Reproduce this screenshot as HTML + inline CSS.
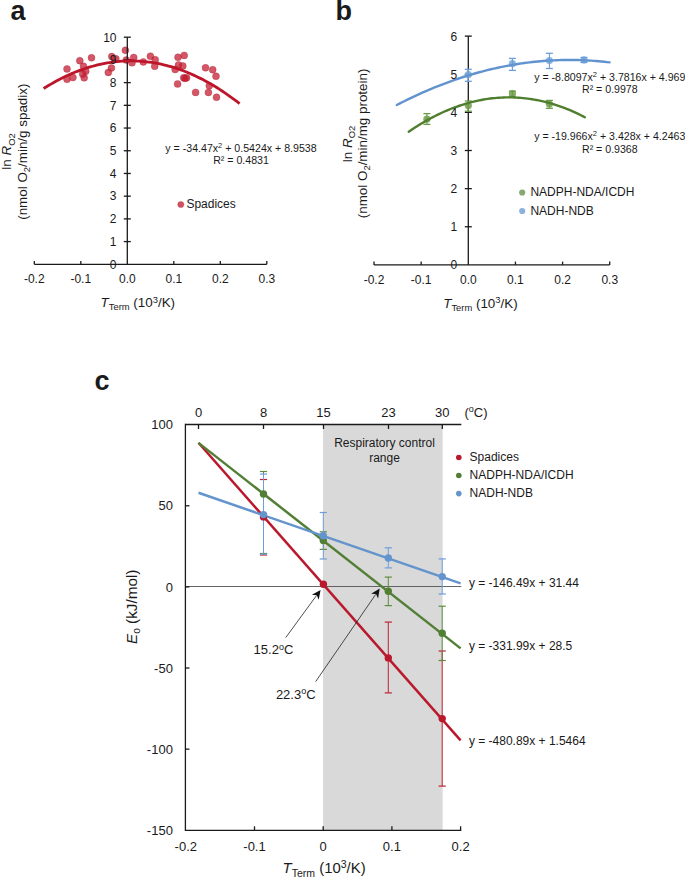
<!DOCTYPE html>
<html><head><meta charset="utf-8"><style>
html,body{margin:0;padding:0;background:#fff;}
svg{display:block;font-family:"Liberation Sans", sans-serif;}
</style></head><body>
<svg width="685" height="878" viewBox="0 0 685 878">
<rect width="685" height="878" fill="#fff"/>
<text x="10.5" y="19.6" font-size="27" text-anchor="start" fill="#1a1a1a" font-weight="bold">a</text>
<text x="335.5" y="19.6" font-size="27" text-anchor="start" fill="#1a1a1a" font-weight="bold">b</text>
<text x="94.5" y="390.4" font-size="27" text-anchor="start" fill="#1a1a1a" font-weight="bold">c</text>
<circle cx="67" cy="68.9" r="3.5" fill="#c41f33" fill-opacity="0.75" stroke="#a81a2e" stroke-opacity="0.45" stroke-width="0.7"/>
<circle cx="67" cy="79.3" r="3.5" fill="#c41f33" fill-opacity="0.75" stroke="#a81a2e" stroke-opacity="0.45" stroke-width="0.7"/>
<circle cx="72.9" cy="77.5" r="3.5" fill="#c41f33" fill-opacity="0.75" stroke="#a81a2e" stroke-opacity="0.45" stroke-width="0.7"/>
<circle cx="79.8" cy="60.7" r="3.5" fill="#c41f33" fill-opacity="0.75" stroke="#a81a2e" stroke-opacity="0.45" stroke-width="0.7"/>
<circle cx="91.5" cy="57.8" r="3.5" fill="#c41f33" fill-opacity="0.75" stroke="#a81a2e" stroke-opacity="0.45" stroke-width="0.7"/>
<circle cx="83.5" cy="66.2" r="3.5" fill="#c41f33" fill-opacity="0.75" stroke="#a81a2e" stroke-opacity="0.45" stroke-width="0.7"/>
<circle cx="85.7" cy="71.3" r="3.5" fill="#c41f33" fill-opacity="0.75" stroke="#a81a2e" stroke-opacity="0.45" stroke-width="0.7"/>
<circle cx="84.2" cy="77.8" r="3.5" fill="#c41f33" fill-opacity="0.75" stroke="#a81a2e" stroke-opacity="0.45" stroke-width="0.7"/>
<circle cx="82.7" cy="74" r="3.5" fill="#c41f33" fill-opacity="0.75" stroke="#a81a2e" stroke-opacity="0.45" stroke-width="0.7"/>
<circle cx="111.8" cy="56.6" r="3.5" fill="#c41f33" fill-opacity="0.75" stroke="#a81a2e" stroke-opacity="0.45" stroke-width="0.7"/>
<circle cx="115.8" cy="58.8" r="3.5" fill="#c41f33" fill-opacity="0.75" stroke="#a81a2e" stroke-opacity="0.45" stroke-width="0.7"/>
<circle cx="125.4" cy="50.3" r="3.5" fill="#c41f33" fill-opacity="0.75" stroke="#a81a2e" stroke-opacity="0.45" stroke-width="0.7"/>
<circle cx="126.3" cy="60.1" r="3.5" fill="#c41f33" fill-opacity="0.75" stroke="#a81a2e" stroke-opacity="0.45" stroke-width="0.7"/>
<circle cx="133.7" cy="57.5" r="3.5" fill="#c41f33" fill-opacity="0.75" stroke="#a81a2e" stroke-opacity="0.45" stroke-width="0.7"/>
<circle cx="132" cy="62.8" r="3.5" fill="#c41f33" fill-opacity="0.75" stroke="#a81a2e" stroke-opacity="0.45" stroke-width="0.7"/>
<circle cx="143.3" cy="61.9" r="3.5" fill="#c41f33" fill-opacity="0.75" stroke="#a81a2e" stroke-opacity="0.45" stroke-width="0.7"/>
<circle cx="150.4" cy="56.2" r="3.5" fill="#c41f33" fill-opacity="0.75" stroke="#a81a2e" stroke-opacity="0.45" stroke-width="0.7"/>
<circle cx="155.2" cy="59.7" r="3.5" fill="#c41f33" fill-opacity="0.75" stroke="#a81a2e" stroke-opacity="0.45" stroke-width="0.7"/>
<circle cx="154.7" cy="66.3" r="3.5" fill="#c41f33" fill-opacity="0.75" stroke="#a81a2e" stroke-opacity="0.45" stroke-width="0.7"/>
<circle cx="111.4" cy="68" r="3.5" fill="#c41f33" fill-opacity="0.75" stroke="#a81a2e" stroke-opacity="0.45" stroke-width="0.7"/>
<circle cx="108.3" cy="72.4" r="3.5" fill="#c41f33" fill-opacity="0.75" stroke="#a81a2e" stroke-opacity="0.45" stroke-width="0.7"/>
<circle cx="178" cy="57.3" r="3.5" fill="#c41f33" fill-opacity="0.75" stroke="#a81a2e" stroke-opacity="0.45" stroke-width="0.7"/>
<circle cx="184.2" cy="55.4" r="3.5" fill="#c41f33" fill-opacity="0.75" stroke="#a81a2e" stroke-opacity="0.45" stroke-width="0.7"/>
<circle cx="178.5" cy="64.9" r="3.5" fill="#c41f33" fill-opacity="0.75" stroke="#a81a2e" stroke-opacity="0.45" stroke-width="0.7"/>
<circle cx="182.8" cy="65.9" r="3.5" fill="#c41f33" fill-opacity="0.75" stroke="#a81a2e" stroke-opacity="0.45" stroke-width="0.7"/>
<circle cx="175.2" cy="69.5" r="3.5" fill="#c41f33" fill-opacity="0.75" stroke="#a81a2e" stroke-opacity="0.45" stroke-width="0.7"/>
<circle cx="183.7" cy="77.7" r="3.5" fill="#c41f33" fill-opacity="0.75" stroke="#a81a2e" stroke-opacity="0.45" stroke-width="0.7"/>
<circle cx="186.6" cy="77.7" r="3.5" fill="#c41f33" fill-opacity="0.75" stroke="#a81a2e" stroke-opacity="0.45" stroke-width="0.7"/>
<circle cx="185" cy="78.5" r="3.5" fill="#c41f33" fill-opacity="0.75" stroke="#a81a2e" stroke-opacity="0.45" stroke-width="0.7"/>
<circle cx="177.6" cy="83.9" r="3.5" fill="#c41f33" fill-opacity="0.75" stroke="#a81a2e" stroke-opacity="0.45" stroke-width="0.7"/>
<circle cx="195.6" cy="92.4" r="3.5" fill="#c41f33" fill-opacity="0.75" stroke="#a81a2e" stroke-opacity="0.45" stroke-width="0.7"/>
<circle cx="205.5" cy="67.8" r="3.5" fill="#c41f33" fill-opacity="0.75" stroke="#a81a2e" stroke-opacity="0.45" stroke-width="0.7"/>
<circle cx="212.7" cy="69.7" r="3.5" fill="#c41f33" fill-opacity="0.75" stroke="#a81a2e" stroke-opacity="0.45" stroke-width="0.7"/>
<circle cx="216" cy="76.3" r="3.5" fill="#c41f33" fill-opacity="0.75" stroke="#a81a2e" stroke-opacity="0.45" stroke-width="0.7"/>
<circle cx="209.3" cy="85.8" r="3.5" fill="#c41f33" fill-opacity="0.75" stroke="#a81a2e" stroke-opacity="0.45" stroke-width="0.7"/>
<circle cx="208.4" cy="92.4" r="3.5" fill="#c41f33" fill-opacity="0.75" stroke="#a81a2e" stroke-opacity="0.45" stroke-width="0.7"/>
<circle cx="216.5" cy="97.2" r="3.5" fill="#c41f33" fill-opacity="0.75" stroke="#a81a2e" stroke-opacity="0.45" stroke-width="0.7"/>
<line x1="127.3" y1="37.2" x2="127.3" y2="264.3" stroke="#1a1a1a" stroke-width="1.3"/>
<line x1="34.3" y1="264.3" x2="266.8" y2="264.3" stroke="#1a1a1a" stroke-width="1.3"/>
<line x1="123.8" y1="241.59" x2="130.8" y2="241.59" stroke="#1a1a1a" stroke-width="1.3"/>
<line x1="123.8" y1="218.88" x2="130.8" y2="218.88" stroke="#1a1a1a" stroke-width="1.3"/>
<line x1="123.8" y1="196.17" x2="130.8" y2="196.17" stroke="#1a1a1a" stroke-width="1.3"/>
<line x1="123.8" y1="173.46" x2="130.8" y2="173.46" stroke="#1a1a1a" stroke-width="1.3"/>
<line x1="123.8" y1="150.75" x2="130.8" y2="150.75" stroke="#1a1a1a" stroke-width="1.3"/>
<line x1="123.8" y1="128.04" x2="130.8" y2="128.04" stroke="#1a1a1a" stroke-width="1.3"/>
<line x1="123.8" y1="105.33" x2="130.8" y2="105.33" stroke="#1a1a1a" stroke-width="1.3"/>
<line x1="123.8" y1="82.62" x2="130.8" y2="82.62" stroke="#1a1a1a" stroke-width="1.3"/>
<line x1="123.8" y1="59.91" x2="130.8" y2="59.91" stroke="#1a1a1a" stroke-width="1.3"/>
<line x1="123.8" y1="37.2" x2="130.8" y2="37.2" stroke="#1a1a1a" stroke-width="1.3"/>
<line x1="34.3" y1="264.3" x2="34.3" y2="261" stroke="#1a1a1a" stroke-width="1.3"/>
<line x1="80.8" y1="264.3" x2="80.8" y2="261" stroke="#1a1a1a" stroke-width="1.3"/>
<line x1="173.8" y1="264.3" x2="173.8" y2="261" stroke="#1a1a1a" stroke-width="1.3"/>
<line x1="220.3" y1="264.3" x2="220.3" y2="261" stroke="#1a1a1a" stroke-width="1.3"/>
<line x1="266.8" y1="264.3" x2="266.8" y2="261" stroke="#1a1a1a" stroke-width="1.3"/>
<polyline points="43.6,88.54 46.05,87.01 48.5,85.53 50.95,84.09 53.4,82.69 55.85,81.33 58.3,80.02 60.75,78.76 63.2,77.53 65.65,76.35 68.1,75.22 70.55,74.12 73,73.07 75.45,72.07 77.9,71.1 80.35,70.18 82.8,69.31 85.25,68.47 87.7,67.69 90.15,66.94 92.6,66.24 95.05,65.58 97.5,64.96 99.95,64.39 102.4,63.86 104.85,63.38 107.3,62.94 109.75,62.54 112.2,62.18 114.65,61.87 117.1,61.61 119.55,61.38 122,61.2 124.45,61.06 126.9,60.97 129.35,60.92 131.8,60.91 134.25,60.95 136.7,61.03 139.15,61.15 141.6,61.32 144.05,61.53 146.5,61.79 148.95,62.08 151.4,62.42 153.85,62.81 156.3,63.24 158.75,63.71 161.2,64.22 163.65,64.78 166.1,65.38 168.55,66.03 171,66.71 173.45,67.45 175.9,68.22 178.35,69.04 180.8,69.9 183.25,70.81 185.7,71.76 188.15,72.75 190.6,73.79 193.05,74.87 195.5,75.99 197.95,77.16 200.4,78.37 202.85,79.62 205.3,80.92 207.75,82.26 210.2,83.64 212.65,85.07 215.1,86.54 217.55,88.06 220,89.61 222.45,91.21 224.9,92.86 227.35,94.55 229.8,96.28 232.25,98.05 234.7,99.87 237.15,101.73 239.6,103.64" fill="none" stroke="#bd1529" stroke-width="2.8" stroke-linecap="butt"/>
<text x="116.5" y="268.6" font-size="12" text-anchor="end" fill="#1a1a1a" >0</text>
<text x="116.5" y="245.89" font-size="12" text-anchor="end" fill="#1a1a1a" >1</text>
<text x="116.5" y="223.18" font-size="12" text-anchor="end" fill="#1a1a1a" >2</text>
<text x="116.5" y="200.47" font-size="12" text-anchor="end" fill="#1a1a1a" >3</text>
<text x="116.5" y="177.76" font-size="12" text-anchor="end" fill="#1a1a1a" >4</text>
<text x="116.5" y="155.05" font-size="12" text-anchor="end" fill="#1a1a1a" >5</text>
<text x="116.5" y="132.34" font-size="12" text-anchor="end" fill="#1a1a1a" >6</text>
<text x="116.5" y="109.63" font-size="12" text-anchor="end" fill="#1a1a1a" >7</text>
<text x="116.5" y="86.92" font-size="12" text-anchor="end" fill="#1a1a1a" >8</text>
<text x="116.5" y="64.21" font-size="12" text-anchor="end" fill="#1a1a1a" >9</text>
<text x="116.5" y="41.5" font-size="12" text-anchor="end" fill="#1a1a1a" >10</text>
<text x="34.3" y="283.3" font-size="12" text-anchor="middle" fill="#1a1a1a" >-0.2</text>
<text x="80.8" y="283.3" font-size="12" text-anchor="middle" fill="#1a1a1a" >-0.1</text>
<text x="127.3" y="283.3" font-size="12" text-anchor="middle" fill="#1a1a1a" >0.0</text>
<text x="173.8" y="283.3" font-size="12" text-anchor="middle" fill="#1a1a1a" >0.1</text>
<text x="220.3" y="283.3" font-size="12" text-anchor="middle" fill="#1a1a1a" >0.2</text>
<text x="266.8" y="283.3" font-size="12" text-anchor="middle" fill="#1a1a1a" >0.3</text>
<text x="100.6" y="307.2" font-size="13.4" fill="#1a1a1a"><tspan font-style="italic">T</tspan><tspan font-size="9.4" dy="3">Term</tspan><tspan dy="-3"> (10</tspan><tspan font-size="9.4" dy="-4.6">3</tspan><tspan dy="4.6">/K)</tspan></text>
<g transform="translate(11.2,151.5) rotate(-90)"><text x="0" y="0" font-size="13.4" text-anchor="middle" fill="#1a1a1a">ln <tspan font-style="italic">R</tspan><tspan font-size="9.4" dy="3.7">O2</tspan></text></g>
<g transform="translate(26.6,151.7) rotate(-90)"><text x="0" y="0" font-size="13.4" text-anchor="middle" fill="#1a1a1a">(nmol O<tspan font-size="9.4" dy="3.5">2</tspan><tspan dy="-3.5">/min/g spadix)</tspan></text></g>
<text x="241" y="151.9" font-size="10.62" text-anchor="middle" fill="#1a1a1a" >y = -34.47x<tspan font-size="7.5" dy="-3.8">2</tspan><tspan dy="3.8"> + 0.5424x + 8.9538</tspan></text>
<text x="241" y="163.6" font-size="10.62" text-anchor="middle" fill="#1a1a1a" >R² = 0.4831</text>
<circle cx="180.8" cy="204.5" r="3.1" fill="#c83445" fill-opacity="0.85" stroke="#b02035" stroke-opacity="0.5" stroke-width="0.6"/>
<text x="186.4" y="208.3" font-size="12" text-anchor="start" fill="#1a1a1a" >Spadices</text>
<line x1="468.3" y1="36.12" x2="468.3" y2="264.9" stroke="#1a1a1a" stroke-width="1.3"/>
<line x1="374.02" y1="264.9" x2="609.72" y2="264.9" stroke="#1a1a1a" stroke-width="1.3"/>
<line x1="464.8" y1="226.77" x2="471.8" y2="226.77" stroke="#1a1a1a" stroke-width="1.3"/>
<line x1="464.8" y1="188.64" x2="471.8" y2="188.64" stroke="#1a1a1a" stroke-width="1.3"/>
<line x1="464.8" y1="150.51" x2="471.8" y2="150.51" stroke="#1a1a1a" stroke-width="1.3"/>
<line x1="464.8" y1="112.38" x2="471.8" y2="112.38" stroke="#1a1a1a" stroke-width="1.3"/>
<line x1="464.8" y1="74.25" x2="471.8" y2="74.25" stroke="#1a1a1a" stroke-width="1.3"/>
<line x1="464.8" y1="36.12" x2="471.8" y2="36.12" stroke="#1a1a1a" stroke-width="1.3"/>
<line x1="374.02" y1="264.9" x2="374.02" y2="261.6" stroke="#1a1a1a" stroke-width="1.3"/>
<line x1="421.16" y1="264.9" x2="421.16" y2="261.6" stroke="#1a1a1a" stroke-width="1.3"/>
<line x1="515.44" y1="264.9" x2="515.44" y2="261.6" stroke="#1a1a1a" stroke-width="1.3"/>
<line x1="562.58" y1="264.9" x2="562.58" y2="261.6" stroke="#1a1a1a" stroke-width="1.3"/>
<line x1="609.72" y1="264.9" x2="609.72" y2="261.6" stroke="#1a1a1a" stroke-width="1.3"/>
<circle cx="426.9" cy="119.2" r="3.6" fill="#78a257" fill-opacity="0.9"/>
<circle cx="468.3" cy="105.6" r="3.6" fill="#78a257" fill-opacity="0.9"/>
<circle cx="512.4" cy="93.7" r="3.6" fill="#78a257" fill-opacity="0.9"/>
<circle cx="549.4" cy="104" r="3.6" fill="#78a257" fill-opacity="0.9"/>
<circle cx="468.3" cy="74.7" r="3.6" fill="#7aaee0" fill-opacity="0.9"/>
<circle cx="512.4" cy="63.7" r="3.6" fill="#7aaee0" fill-opacity="0.9"/>
<circle cx="549.4" cy="60.5" r="3.6" fill="#7aaee0" fill-opacity="0.9"/>
<circle cx="584" cy="59.9" r="3.6" fill="#7aaee0" fill-opacity="0.9"/>
<line x1="426.9" y1="113.6" x2="426.9" y2="124.4" stroke="#6b9a48" stroke-width="1.1"/>
<line x1="423.4" y1="113.6" x2="430.4" y2="113.6" stroke="#6b9a48" stroke-width="1.3"/>
<line x1="423.4" y1="124.4" x2="430.4" y2="124.4" stroke="#6b9a48" stroke-width="1.3"/>
<line x1="468.3" y1="101" x2="468.3" y2="111.2" stroke="#6b9a48" stroke-width="1.1"/>
<line x1="464.8" y1="101" x2="471.8" y2="101" stroke="#6b9a48" stroke-width="1.3"/>
<line x1="464.8" y1="111.2" x2="471.8" y2="111.2" stroke="#6b9a48" stroke-width="1.3"/>
<line x1="512.4" y1="91.2" x2="512.4" y2="96.4" stroke="#6b9a48" stroke-width="1.1"/>
<line x1="508.9" y1="91.2" x2="515.9" y2="91.2" stroke="#6b9a48" stroke-width="1.3"/>
<line x1="508.9" y1="96.4" x2="515.9" y2="96.4" stroke="#6b9a48" stroke-width="1.3"/>
<line x1="549.4" y1="100.4" x2="549.4" y2="108.3" stroke="#6b9a48" stroke-width="1.1"/>
<line x1="545.9" y1="100.4" x2="552.9" y2="100.4" stroke="#6b9a48" stroke-width="1.3"/>
<line x1="545.9" y1="108.3" x2="552.9" y2="108.3" stroke="#6b9a48" stroke-width="1.3"/>
<line x1="468.3" y1="69.3" x2="468.3" y2="81.3" stroke="#6c9dd8" stroke-width="1.1"/>
<line x1="464.8" y1="69.3" x2="471.8" y2="69.3" stroke="#6c9dd8" stroke-width="1.3"/>
<line x1="464.8" y1="81.3" x2="471.8" y2="81.3" stroke="#6c9dd8" stroke-width="1.3"/>
<line x1="512.4" y1="58.4" x2="512.4" y2="70.4" stroke="#6c9dd8" stroke-width="1.1"/>
<line x1="508.9" y1="58.4" x2="515.9" y2="58.4" stroke="#6c9dd8" stroke-width="1.3"/>
<line x1="508.9" y1="70.4" x2="515.9" y2="70.4" stroke="#6c9dd8" stroke-width="1.3"/>
<line x1="549.4" y1="53.3" x2="549.4" y2="68.5" stroke="#6c9dd8" stroke-width="1.1"/>
<line x1="545.9" y1="53.3" x2="552.9" y2="53.3" stroke="#6c9dd8" stroke-width="1.3"/>
<line x1="545.9" y1="68.5" x2="552.9" y2="68.5" stroke="#6c9dd8" stroke-width="1.3"/>
<line x1="584" y1="57.5" x2="584" y2="62.4" stroke="#6c9dd8" stroke-width="1.1"/>
<line x1="580.5" y1="57.5" x2="587.5" y2="57.5" stroke="#6c9dd8" stroke-width="1.3"/>
<line x1="580.5" y1="62.4" x2="587.5" y2="62.4" stroke="#6c9dd8" stroke-width="1.3"/>
<polyline points="396.79,105.04 399.45,103.66 402.11,102.3 404.77,100.97 407.43,99.65 410.09,98.36 412.75,97.09 415.41,95.84 418.07,94.61 420.73,93.4 423.39,92.22 426.05,91.06 428.71,89.91 431.37,88.79 434.03,87.69 436.69,86.61 439.35,85.56 442.01,84.52 444.67,83.51 447.33,82.51 449.99,81.54 452.65,80.59 455.31,79.66 457.97,78.75 460.63,77.87 463.29,77 465.95,76.16 468.61,75.34 471.27,74.54 473.92,73.76 476.58,73 479.24,72.27 481.9,71.55 484.56,70.86 487.22,70.18 489.88,69.53 492.54,68.9 495.2,68.3 497.86,67.71 500.52,67.15 503.18,66.6 505.84,66.08 508.5,65.58 511.16,65.1 513.82,64.64 516.48,64.2 519.14,63.79 521.8,63.39 524.46,63.02 527.12,62.67 529.78,62.34 532.44,62.03 535.1,61.74 537.76,61.48 540.42,61.23 543.08,61.01 545.74,60.81 548.4,60.63 551.06,60.47 553.72,60.33 556.38,60.22 559.04,60.12 561.7,60.05 564.36,60 567.02,59.97 569.68,59.96 572.34,59.97 575,60 577.66,60.06 580.32,60.14 582.98,60.23 585.64,60.35 588.3,60.49 590.96,60.66 593.62,60.84 596.28,61.04 598.94,61.27 601.6,61.52 604.26,61.79 606.92,62.08 609.58,62.39" fill="none" stroke="#6193cf" stroke-width="2.4" stroke-linecap="round"/>
<polyline points="408.72,131.67 410.92,130.18 413.12,128.72 415.32,127.3 417.52,125.9 419.72,124.54 421.92,123.22 424.13,121.92 426.33,120.66 428.53,119.44 430.73,118.24 432.93,117.08 435.13,115.95 437.33,114.86 439.54,113.8 441.74,112.77 443.94,111.78 446.14,110.82 448.34,109.89 450.54,108.99 452.74,108.13 454.95,107.3 457.15,106.51 459.35,105.75 461.55,105.02 463.75,104.32 465.95,103.66 468.15,103.03 470.36,102.43 472.56,101.87 474.76,101.34 476.96,100.84 479.16,100.38 481.36,99.95 483.56,99.55 485.77,99.19 487.97,98.86 490.17,98.56 492.37,98.3 494.57,98.07 496.77,97.87 498.97,97.71 501.18,97.58 503.38,97.48 505.58,97.41 507.78,97.38 509.98,97.38 512.18,97.42 514.38,97.49 516.59,97.59 518.79,97.72 520.99,97.89 523.19,98.09 525.39,98.32 527.59,98.59 529.79,98.89 532,99.23 534.2,99.59 536.4,99.99 538.6,100.43 540.8,100.89 543,101.39 545.2,101.93 547.41,102.49 549.61,103.09 551.81,103.72 554.01,104.39 556.21,105.09 558.41,105.82 560.61,106.59 562.82,107.39 565.02,108.22 567.22,109.08 569.42,109.98 571.62,110.91 573.82,111.88 576.02,112.88 578.23,113.91 580.43,114.97 582.63,116.07 584.83,117.2" fill="none" stroke="#4f7f2e" stroke-width="2.4" stroke-linecap="round"/>
<text x="457.2" y="269.3" font-size="12" text-anchor="end" fill="#1a1a1a" >0</text>
<text x="457.2" y="231.17" font-size="12" text-anchor="end" fill="#1a1a1a" >1</text>
<text x="457.2" y="193.04" font-size="12" text-anchor="end" fill="#1a1a1a" >2</text>
<text x="457.2" y="154.91" font-size="12" text-anchor="end" fill="#1a1a1a" >3</text>
<text x="457.2" y="116.78" font-size="12" text-anchor="end" fill="#1a1a1a" >4</text>
<text x="457.2" y="78.65" font-size="12" text-anchor="end" fill="#1a1a1a" >5</text>
<text x="457.2" y="40.52" font-size="12" text-anchor="end" fill="#1a1a1a" >6</text>
<text x="374.02" y="283.9" font-size="12" text-anchor="middle" fill="#1a1a1a" >-0.2</text>
<text x="421.16" y="283.9" font-size="12" text-anchor="middle" fill="#1a1a1a" >-0.1</text>
<text x="468.3" y="283.9" font-size="12" text-anchor="middle" fill="#1a1a1a" >0.0</text>
<text x="515.44" y="283.9" font-size="12" text-anchor="middle" fill="#1a1a1a" >0.1</text>
<text x="562.58" y="283.9" font-size="12" text-anchor="middle" fill="#1a1a1a" >0.2</text>
<text x="609.72" y="283.9" font-size="12" text-anchor="middle" fill="#1a1a1a" >0.3</text>
<text x="443.2" y="307.5" font-size="13.4" fill="#1a1a1a"><tspan font-style="italic">T</tspan><tspan font-size="9.4" dy="3">Term</tspan><tspan dy="-3"> (10</tspan><tspan font-size="9.4" dy="-4.6">3</tspan><tspan dy="4.6">/K)</tspan></text>
<g transform="translate(351.6,144) rotate(-90)"><text x="0" y="0" font-size="13.4" text-anchor="middle" fill="#1a1a1a">ln <tspan font-style="italic">R</tspan><tspan font-size="9.4" dy="3.7">O2</tspan></text></g>
<g transform="translate(366.8,143.4) rotate(-90)"><text x="0" y="0" font-size="13.4" text-anchor="middle" fill="#1a1a1a">(nmol O<tspan font-size="9.4" dy="3.5">2</tspan><tspan dy="-3.5">/min/mg protein)</tspan></text></g>
<text x="534.2" y="80.7" font-size="10.6" text-anchor="start" fill="#1a1a1a" >y = -8.8097x<tspan font-size="7.5" dy="-3.8">2</tspan><tspan dy="3.8"> + 3.7816x + 4.969</tspan></text>
<text x="582" y="93" font-size="10.6" text-anchor="start" fill="#1a1a1a" >R² = 0.9978</text>
<text x="534.2" y="140.2" font-size="10.6" text-anchor="start" fill="#1a1a1a" >y = -19.966x<tspan font-size="7.5" dy="-3.8">2</tspan><tspan dy="3.8"> + 3.428x + 4.2463</tspan></text>
<text x="582" y="153" font-size="10.6" text-anchor="start" fill="#1a1a1a" >R² = 0.9368</text>
<circle cx="522.2" cy="192.5" r="3.1" fill="#86a873"/>
<text x="530.4" y="196.4" font-size="12" text-anchor="start" fill="#1a1a1a" >NADPH-NDA/ICDH</text>
<circle cx="522.2" cy="211.0" r="3.1" fill="#8cb1df"/>
<text x="530.4" y="214.6" font-size="12" text-anchor="start" fill="#1a1a1a" >NADH-NDB</text>
<rect x="323.0" y="424.5" width="119.6" height="405.8" fill="#d9d9d9"/>
<line x1="185.4" y1="586.5" x2="461.3" y2="586.5" stroke="#555555" stroke-width="0.9"/>
<line x1="185.4" y1="424.5" x2="461.3" y2="424.5" stroke="#1a1a1a" stroke-width="1.3"/>
<line x1="185.4" y1="423.85" x2="185.4" y2="830.95" stroke="#1a1a1a" stroke-width="1.3"/>
<line x1="185.4" y1="830.3" x2="461.3" y2="830.3" stroke="#1a1a1a" stroke-width="1.3"/>
<line x1="185.4" y1="505.78" x2="189.4" y2="505.78" stroke="#1a1a1a" stroke-width="1.3"/>
<line x1="185.4" y1="586.9" x2="189.4" y2="586.9" stroke="#1a1a1a" stroke-width="1.3"/>
<line x1="185.4" y1="668.02" x2="189.4" y2="668.02" stroke="#1a1a1a" stroke-width="1.3"/>
<line x1="185.4" y1="749.14" x2="189.4" y2="749.14" stroke="#1a1a1a" stroke-width="1.3"/>
<line x1="254.5" y1="830.3" x2="254.5" y2="826.3" stroke="#1a1a1a" stroke-width="1.3"/>
<line x1="323.2" y1="830.3" x2="323.2" y2="826.3" stroke="#1a1a1a" stroke-width="1.3"/>
<line x1="391.9" y1="830.3" x2="391.9" y2="826.3" stroke="#1a1a1a" stroke-width="1.3"/>
<line x1="460.6" y1="830.3" x2="460.6" y2="826.3" stroke="#1a1a1a" stroke-width="1.3"/>
<line x1="198.5" y1="424.5" x2="198.5" y2="429" stroke="#1a1a1a" stroke-width="1.3"/>
<text x="198.5" y="417.4" font-size="13" text-anchor="middle" fill="#1a1a1a" >0</text>
<line x1="263.5" y1="424.5" x2="263.5" y2="429" stroke="#1a1a1a" stroke-width="1.3"/>
<text x="263.5" y="417.4" font-size="13" text-anchor="middle" fill="#1a1a1a" >8</text>
<line x1="323.5" y1="424.5" x2="323.5" y2="429" stroke="#1a1a1a" stroke-width="1.3"/>
<text x="323.5" y="417.4" font-size="13" text-anchor="middle" fill="#1a1a1a" >15</text>
<line x1="388.5" y1="424.5" x2="388.5" y2="429" stroke="#1a1a1a" stroke-width="1.3"/>
<text x="388.5" y="417.4" font-size="13" text-anchor="middle" fill="#1a1a1a" >23</text>
<line x1="442.3" y1="424.5" x2="442.3" y2="429" stroke="#1a1a1a" stroke-width="1.3"/>
<text x="442.3" y="417.4" font-size="13" text-anchor="middle" fill="#1a1a1a" >30</text>
<text x="464.5" y="417" font-size="13" text-anchor="start" fill="#1a1a1a" >(<tspan font-size="9" dy="-4.8">o</tspan><tspan dy="4.8">C)</tspan></text>
<text x="172.9" y="429.36" font-size="13" text-anchor="end" fill="#1a1a1a" >100</text>
<text x="172.9" y="510.48" font-size="13" text-anchor="end" fill="#1a1a1a" >50</text>
<text x="172.9" y="591.6" font-size="13" text-anchor="end" fill="#1a1a1a" >0</text>
<text x="172.9" y="672.72" font-size="13" text-anchor="end" fill="#1a1a1a" >-50</text>
<text x="172.9" y="753.84" font-size="13" text-anchor="end" fill="#1a1a1a" >-100</text>
<text x="172.9" y="834.96" font-size="13" text-anchor="end" fill="#1a1a1a" >-150</text>
<text x="185.8" y="851.3" font-size="13" text-anchor="middle" fill="#1a1a1a" >-0.2</text>
<text x="254.5" y="851.3" font-size="13" text-anchor="middle" fill="#1a1a1a" >-0.1</text>
<text x="323.2" y="851.3" font-size="13" text-anchor="middle" fill="#1a1a1a" >0</text>
<text x="391.9" y="851.3" font-size="13" text-anchor="middle" fill="#1a1a1a" >0.1</text>
<text x="460.6" y="851.3" font-size="13" text-anchor="middle" fill="#1a1a1a" >0.2</text>
<text x="282.6" y="873" font-size="14.9" fill="#1a1a1a"><tspan font-style="italic">T</tspan><tspan font-size="10.5" dy="3.6">Term</tspan><tspan dy="-3.6"> (10</tspan><tspan font-size="10.5" dy="-5.2">3</tspan><tspan dy="5.2">/K)</tspan></text>
<g transform="translate(137.1,606.8) rotate(-90)"><text x="0" y="0" font-size="15.3" text-anchor="middle" fill="#1a1a1a"><tspan font-style="italic">E</tspan><tspan font-size="10.2" dy="3.1">o</tspan><tspan dy="-3.1"> (kJ/mol)</tspan></text></g>
<text x="384.5" y="447.4" font-size="12" text-anchor="middle" fill="#1a1a1a" >Respiratory control</text>
<text x="384.5" y="461.8" font-size="12" text-anchor="middle" fill="#1a1a1a" >range</text>
<line x1="263.5" y1="479.5" x2="263.5" y2="555" stroke="#bf2234" stroke-width="1.0"/>
<line x1="259.9" y1="479.5" x2="267.1" y2="479.5" stroke="#bf2234" stroke-width="1.2"/>
<line x1="259.9" y1="555" x2="267.1" y2="555" stroke="#bf2234" stroke-width="1.2"/>
<line x1="388.3" y1="622.1" x2="388.3" y2="692.9" stroke="#bf2234" stroke-width="1.0"/>
<line x1="384.7" y1="622.1" x2="391.9" y2="622.1" stroke="#bf2234" stroke-width="1.2"/>
<line x1="384.7" y1="692.9" x2="391.9" y2="692.9" stroke="#bf2234" stroke-width="1.2"/>
<line x1="442.2" y1="651" x2="442.2" y2="786.1" stroke="#bf2234" stroke-width="1.0"/>
<line x1="438.6" y1="651" x2="445.8" y2="651" stroke="#bf2234" stroke-width="1.2"/>
<line x1="438.6" y1="786.1" x2="445.8" y2="786.1" stroke="#bf2234" stroke-width="1.2"/>
<line x1="263.5" y1="471.5" x2="263.5" y2="553.5" stroke="#5e8c3c" stroke-width="1.0"/>
<line x1="259.9" y1="471.5" x2="267.1" y2="471.5" stroke="#5e8c3c" stroke-width="1.2"/>
<line x1="259.9" y1="553.5" x2="267.1" y2="553.5" stroke="#5e8c3c" stroke-width="1.2"/>
<line x1="323.3" y1="531.8" x2="323.3" y2="549.4" stroke="#5e8c3c" stroke-width="1.0"/>
<line x1="319.7" y1="531.8" x2="326.9" y2="531.8" stroke="#5e8c3c" stroke-width="1.2"/>
<line x1="319.7" y1="549.4" x2="326.9" y2="549.4" stroke="#5e8c3c" stroke-width="1.2"/>
<line x1="388.3" y1="577.1" x2="388.3" y2="605.6" stroke="#5e8c3c" stroke-width="1.0"/>
<line x1="384.7" y1="577.1" x2="391.9" y2="577.1" stroke="#5e8c3c" stroke-width="1.2"/>
<line x1="384.7" y1="605.6" x2="391.9" y2="605.6" stroke="#5e8c3c" stroke-width="1.2"/>
<line x1="442.2" y1="606.2" x2="442.2" y2="660.5" stroke="#5e8c3c" stroke-width="1.0"/>
<line x1="438.6" y1="606.2" x2="445.8" y2="606.2" stroke="#5e8c3c" stroke-width="1.2"/>
<line x1="438.6" y1="660.5" x2="445.8" y2="660.5" stroke="#5e8c3c" stroke-width="1.2"/>
<line x1="263.5" y1="474.1" x2="263.5" y2="554.2" stroke="#6e9ed8" stroke-width="1.0"/>
<line x1="259.9" y1="474.1" x2="267.1" y2="474.1" stroke="#6e9ed8" stroke-width="1.2"/>
<line x1="259.9" y1="554.2" x2="267.1" y2="554.2" stroke="#6e9ed8" stroke-width="1.2"/>
<line x1="323.3" y1="512.5" x2="323.3" y2="559" stroke="#6e9ed8" stroke-width="1.0"/>
<line x1="319.7" y1="512.5" x2="326.9" y2="512.5" stroke="#6e9ed8" stroke-width="1.2"/>
<line x1="319.7" y1="559" x2="326.9" y2="559" stroke="#6e9ed8" stroke-width="1.2"/>
<line x1="388.3" y1="547.8" x2="388.3" y2="567.9" stroke="#6e9ed8" stroke-width="1.0"/>
<line x1="384.7" y1="547.8" x2="391.9" y2="547.8" stroke="#6e9ed8" stroke-width="1.2"/>
<line x1="384.7" y1="567.9" x2="391.9" y2="567.9" stroke="#6e9ed8" stroke-width="1.2"/>
<line x1="442.2" y1="558.9" x2="442.2" y2="594" stroke="#6e9ed8" stroke-width="1.0"/>
<line x1="438.6" y1="558.9" x2="445.8" y2="558.9" stroke="#6e9ed8" stroke-width="1.2"/>
<line x1="438.6" y1="594" x2="445.8" y2="594" stroke="#6e9ed8" stroke-width="1.2"/>
<line x1="198.5" y1="442.77" x2="460.6" y2="740.43" stroke="#b9182d" stroke-width="2.5"/>
<line x1="198.5" y1="442.89" x2="460.6" y2="648.39" stroke="#527f35" stroke-width="2.5"/>
<line x1="198.5" y1="492.75" x2="460.6" y2="583.42" stroke="#6494cd" stroke-width="2.5"/>
<circle cx="263.5" cy="516.9" r="3.7" fill="#b9182d"/>
<circle cx="323.4" cy="584.2" r="3.7" fill="#b9182d"/>
<circle cx="388.3" cy="657.9" r="3.7" fill="#b9182d"/>
<circle cx="442.2" cy="718.6" r="3.7" fill="#b9182d"/>
<circle cx="263.5" cy="494" r="3.7" fill="#527f35"/>
<circle cx="323.3" cy="540.6" r="3.7" fill="#527f35"/>
<circle cx="388.3" cy="591.2" r="3.7" fill="#527f35"/>
<circle cx="442.2" cy="633.3" r="3.7" fill="#527f35"/>
<circle cx="263.5" cy="514.6" r="3.7" fill="#6494cd"/>
<circle cx="323.3" cy="535.8" r="3.7" fill="#6494cd"/>
<circle cx="388.3" cy="558" r="3.7" fill="#6494cd"/>
<circle cx="442.2" cy="576.6" r="3.7" fill="#6494cd"/>
<circle cx="458.8" cy="457.5" r="2.8" fill="#b9182d"/>
<text x="469.6" y="460.9" font-size="12" text-anchor="start" fill="#1a1a1a" >Spadices</text>
<circle cx="458.8" cy="475.5" r="2.8" fill="#527f35"/>
<text x="469.6" y="479" font-size="12" text-anchor="start" fill="#1a1a1a" >NADPH-NDA/ICDH</text>
<circle cx="458.8" cy="493.6" r="2.8" fill="#6494cd"/>
<text x="469.6" y="497.1" font-size="12" text-anchor="start" fill="#1a1a1a" >NADH-NDB</text>
<text x="468.9" y="586.6" font-size="12" text-anchor="start" fill="#1a1a1a" >y = -146.49x + 31.44</text>
<text x="468.9" y="650.1" font-size="12" text-anchor="start" fill="#1a1a1a" >y = -331.99x + 28.5</text>
<text x="468.9" y="744.6" font-size="12" text-anchor="start" fill="#1a1a1a" >y = -480.89x + 1.5464</text>
<line x1="285.8" y1="637.5" x2="316.47" y2="595.55" stroke="#222" stroke-width="0.8"/>
<polygon points="320.6,589.9 318.68,599.64 316.78,595.13 311.9,594.69" fill="#111"/>
<line x1="315.6" y1="681.7" x2="375.73" y2="594.37" stroke="#222" stroke-width="0.8"/>
<polygon points="379.7,588.6 378.06,598.39 376.03,593.94 371.14,593.63" fill="#111"/>
<text x="253.6" y="654.4" font-size="13" text-anchor="start" fill="#1a1a1a" >15.2<tspan font-size="9" dy="-4.8">o</tspan><tspan dy="4.8">C</tspan></text>
<text x="275.9" y="698.6" font-size="13" text-anchor="start" fill="#1a1a1a" >22.3<tspan font-size="9" dy="-4.8">o</tspan><tspan dy="4.8">C</tspan></text>
</svg>
</body></html>
